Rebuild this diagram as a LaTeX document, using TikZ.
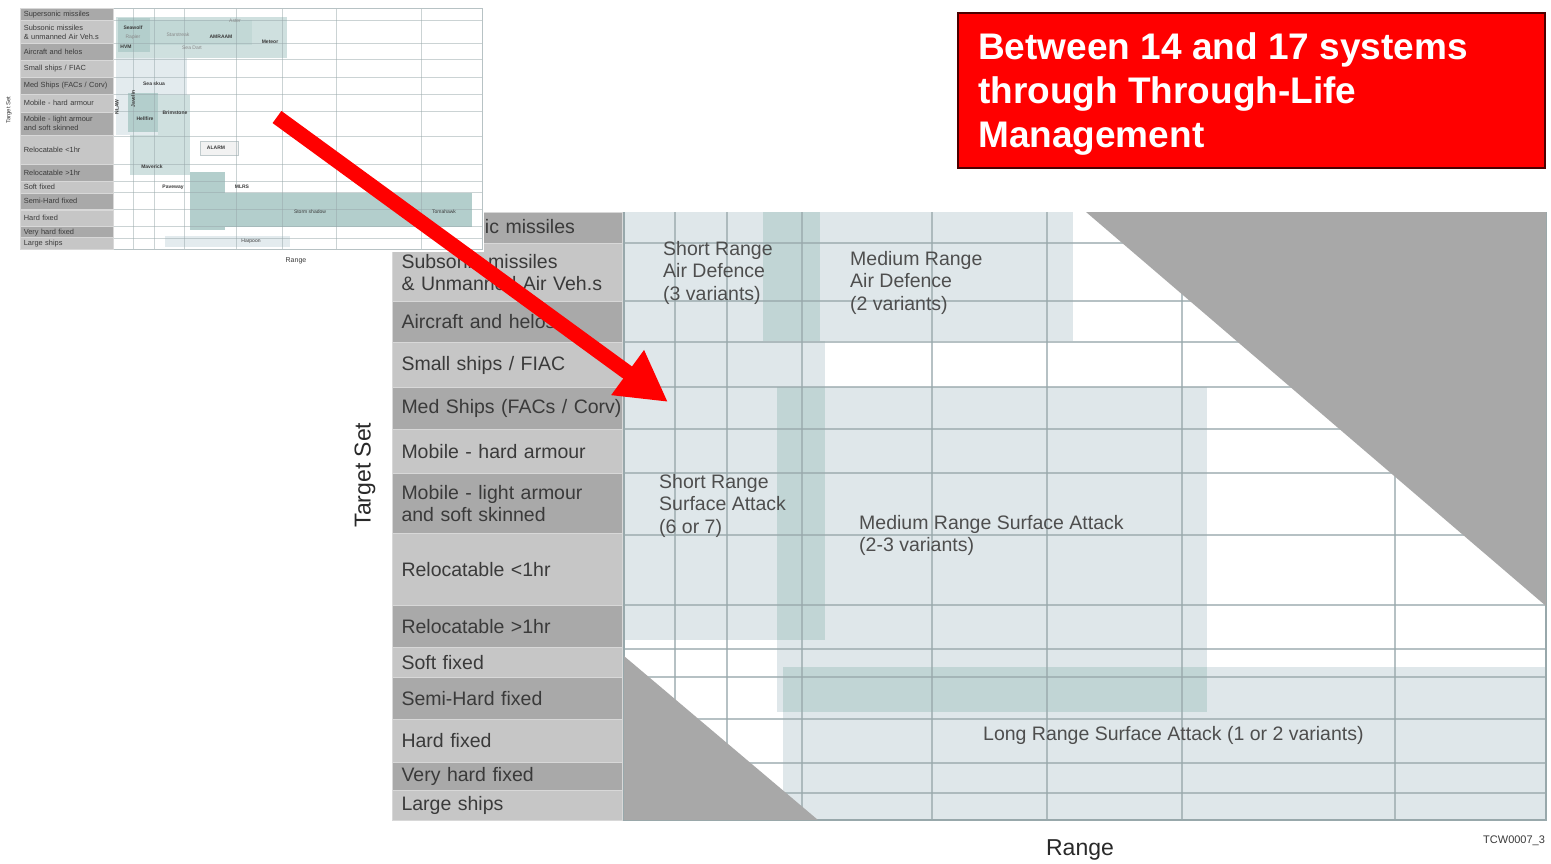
\documentclass[tikz,border=0pt]{standalone}
\usepackage{fontspec}
\setmainfont{Liberation Sans}
\usetikzlibrary{arrows.meta}
\definecolor{rowdark}{HTML}{A9A9A9}
\definecolor{rowlight}{HTML}{C6C6C6}
\definecolor{rowline}{HTML}{D8D8D8}
\definecolor{txtgray}{HTML}{3A3A3A}
\definecolor{chartbg}{HTML}{DFE7EA}
\definecolor{band}{HTML}{C1D5D5}
\definecolor{gridc}{HTML}{98A8AB}
\definecolor{tri}{HTML}{A8A8A8}
\definecolor{boxred}{HTML}{FF0000}
\definecolor{tteal}{HTML}{B3CECC}
\definecolor{tteall}{HTML}{CFE0DF}
\definecolor{tblue}{HTML}{E3EBEE}
\newcommand\rowfnt{\fontsize{19.5}{22.5}\selectfont}
\newcommand\trowfnt{\fontsize{7.4}{9}\selectfont}
\newcommand\sysfnt{\fontsize{5}{6}\selectfont}
\newcommand\mrow[5]{\node[rowbox,fill=#4,minimum height=#3pt] (#1) at (392,#2) {#5};}
\newcommand\trow[5]{\node[trowbox,fill=#4,minimum height=#3pt] (#1) at (20,#2) {#5};}
\begin{document}
\begin{tikzpicture}[x=1pt,y=-1pt,
  rowbox/.style={rectangle, anchor=north west, minimum width=230pt, inner xsep=9pt, inner ysep=0pt,
    text width=212pt, align=left, font=\rowfnt, text=txtgray, draw=rowline, line width=1pt},
  trowbox/.style={rectangle, anchor=north west, minimum width=93pt, inner xsep=3.6pt, inner ysep=0pt,
    text width=85.8pt, align=left, font=\trowfnt, text=txtgray, draw=rowline, line width=0.5pt},
  charttext/.style={anchor=north west, inner sep=0pt, align=left, font=\rowfnt, text=txtgray!90},
  gridline/.style={draw=gridc, line width=1.1pt, opacity=0.7},
  tgridline/.style={draw=gridc, line width=0.5pt, opacity=0.5},
  systext/.style={inner sep=0pt, font=\sysfnt\bfseries, text=txtgray},
  axistext/.style={inner sep=0pt, font=\fontsize{23}{27}\selectfont, text=txtgray!70!black},
  redbox/.style={rectangle, anchor=north west, fill=boxred, draw=black!70!red, line width=1.5pt,
    minimum width=587pt, minimum height=155pt},
  titletext/.style={anchor=north west, inner sep=0pt, align=left, text=white,
    font=\fontsize{37}{44}\selectfont\bfseries},
  redarrow/.style={draw=boxred, line width=15pt, -{Triangle[length=50pt,width=52pt]}}
]
\useasboundingbox (0,0) rectangle (1551,863);
\fill[white] (0,0) rectangle (1551,863);

% ---------- main chart: shaded regions ----------
\fill[chartbg] (624,212) rectangle (1073,341);
\fill[chartbg] (624,341) rectangle (825,640);
\fill[chartbg] (777,387) rectangle (1207,712);
\fill[chartbg] (783,667) rectangle (1546,820);
\fill[band] (763,212) rectangle (820,341);
\fill[band] (777,387) rectangle (825,640);
\fill[band] (783,667) rectangle (1207,712);

% grid
\foreach \x in {675,727,802,932,1047,1182,1395} \draw[gridline] (\x,212) -- (\x,820);
\foreach \y in {243,301,342,387,429,473,535,605,649,677,719,763,793} \draw[gridline] (624,\y) -- (1546,\y);
\draw[draw=gridc, line width=1.2pt] (1546,212) -- (1546,820) -- (624,820) -- (624,212);

% gray triangles
\fill[tri] (1086,212) -- (1546,212) -- (1546,606) -- cycle;
\fill[tri] (624,656) -- (818,820) -- (624,820) -- cycle;

% chart labels
\node[charttext] (srad) at (663,241) {Short Range\\Air Defence\\(3 variants)};
\node[charttext] (mrad) at (850,251) {Medium Range\\Air Defence\\(2 variants)};
\node[charttext] (srsa) at (659,474) {Short Range\\Surface Attack\\(6 or 7)};
\node[charttext] (mrsa) at (859,515) {Medium Range Surface Attack\\(2-3 variants)};
\node[charttext] (lrsa) at (983,726) {Long Range Surface Attack (1 or 2 variants)};

% row labels
\mrow{r1}{212}{31}{rowdark}{Supersonic missiles}
\mrow{r2}{243}{58}{rowlight}{Subsonic missiles\\\& Unmanned Air Veh.s}
\mrow{r3}{301}{41}{rowdark}{Aircraft and helos}
\mrow{r4}{342}{45}{rowlight}{Small ships / FIAC}
\mrow{r5}{387}{42}{rowdark}{\mbox{Med Ships (FACs / Corv)}}
\mrow{r6}{429}{44}{rowlight}{Mobile - hard armour}
\mrow{r7}{473}{60}{rowdark}{Mobile - light armour\\and soft skinned}
\mrow{r8}{533}{72}{rowlight}{Relocatable <1hr}
\mrow{r9}{605}{42}{rowdark}{Relocatable >1hr}
\mrow{r10}{647}{30}{rowlight}{Soft fixed}
\mrow{r11}{677}{42}{rowdark}{Semi-Hard fixed}
\mrow{r12}{719}{43}{rowlight}{Hard fixed}
\mrow{r13}{762}{28}{rowdark}{Very hard fixed}
\mrow{r14}{790}{30}{rowlight}{Large ships}

% axis labels
\node[axistext, rotate=90] (ylab) at (365,475) {Target Set};
\node[axistext] (xlab) at (1080,850) {Range};
\node[inner sep=0pt, anchor=west, font=\fontsize{11}{13}\selectfont, text=txtgray] (ref) at (1483,841) {TCW0007\_3};

% ---------- thumbnail ----------
\fill[white] (0,0) rectangle (484,252);
\fill[tteall] (116,17) rectangle (287,58);
\fill[tteal] (118,18) rectangle (150,52);
\fill[tteal!80!white] (150,20) rectangle (252,45);
\fill[tblue] (116,58) rectangle (187,135);
\fill[tteal] (128,93) rectangle (158,132);
\fill[tteall] (158,95) rectangle (190,135);
\fill[tteall] (130,135) rectangle (190,175);
\fill[tteal] (190,172) rectangle (225,230);
\fill[tteal] (200,193) rectangle (472,227);
\fill[tblue] (165,236) rectangle (290,247);
\filldraw[fill=white!90!gray, draw=gridc!60, line width=0.4pt] (200,141) rectangle (238,155);
\foreach \x in {133.2,154,184,236,282,336,421.2} \draw[tgridline] (\x,8) -- (\x,249);
\foreach \y in {20.3,43.3,59.6,77.4,94.1,111.6,136,164,181.4,192.6,209.3,226.7,238.7} \draw[tgridline] (113,\y) -- (482,\y);
\draw[draw=gridc!70, line width=0.5pt] (113,8) rectangle (482,249);

\trow{t1}{8}{12.3}{rowdark}{Supersonic missiles}
\trow{t2}{20.3}{23}{rowlight}{Subsonic missiles\\\& unmanned Air Veh.s}
\trow{t3}{43.3}{16.3}{rowdark}{Aircraft and helos}
\trow{t4}{59.6}{17.8}{rowlight}{Small ships / FIAC}
\trow{t5}{77.4}{16.7}{rowdark}{Med Ships (FACs / Corv)}
\trow{t6}{94.1}{17.5}{rowlight}{Mobile - hard armour}
\trow{t7}{111.6}{23.8}{rowdark}{Mobile - light armour\\and soft skinned}
\trow{t8}{135.4}{28.6}{rowlight}{Relocatable <1hr}
\trow{t9}{164.4}{16.3}{rowdark}{Relocatable >1hr}
\trow{t10}{180.7}{11.9}{rowlight}{Soft fixed}
\trow{t11}{192.6}{16.5}{rowdark}{Semi-Hard fixed}
\trow{t12}{209.6}{16.7}{rowlight}{Hard fixed}
\trow{t13}{226.3}{11.1}{rowdark}{Very hard fixed}
\trow{t14}{237.4}{11.9}{rowlight}{Large ships}

\node[systext] (s1) at (133,28) {Seawolf};
\node[systext, font=\sysfnt, text=txtgray!60] (s2) at (133,37) {Rapier};
\node[systext, font=\sysfnt, text=txtgray!60] (s3) at (178,35) {Starstreak};
\node[systext] (s4) at (221,37) {AMRAAM};
\node[systext, font=\sysfnt, text=txtgray!60] (s5) at (235,21) {Aster};
\node[systext] (s6) at (126,47) {HVM};
\node[systext, font=\sysfnt, text=txtgray!60] (s7) at (192,48) {Sea Dart};
\node[systext] (s8) at (270,42) {Meteor};
\node[systext] (s9) at (154,84) {Sea skua};
\node[systext, rotate=90] (s10) at (117,107) {NLAW};
\node[systext, rotate=90] (s11) at (133,99) {Javelin};
\node[systext] (s12) at (145,119) {Hellfire};
\node[systext] (s13) at (175,113) {Brimstone};
\node[systext] (s14) at (216,148) {ALARM};
\node[systext] (s15) at (152,167) {Maverick};
\node[systext] (s16) at (173,187) {Paveway};
\node[systext] (s17) at (242,187) {MLRS};
\node[systext, font=\sysfnt] (s18) at (310,212) {Storm shadow};
\node[systext, font=\sysfnt] (s19) at (444,212) {Tomahawk};
\node[systext, font=\sysfnt] (s20) at (251,241) {Harpoon};
\node[inner sep=0pt, rotate=90, font=\fontsize{6}{7}\selectfont, text=txtgray] (tylab) at (9,110) {Target Set};
\node[inner sep=0pt, font=\fontsize{7}{8}\selectfont, text=txtgray] (txlab) at (296,261) {Range};

% ---------- red arrow ----------
\coordinate (arrowstart) at (277,117);
\coordinate (arrowend) at (668,402);
\draw[redarrow] (arrowstart) -- (arrowend);

% ---------- red title box ----------
\node[redbox] (titlebox) at (957,12) {};
\node[titletext] (title) at (978,32) {Between 14 and 17 systems\\through Through-Life\\Management};
\end{tikzpicture}
\end{document}
